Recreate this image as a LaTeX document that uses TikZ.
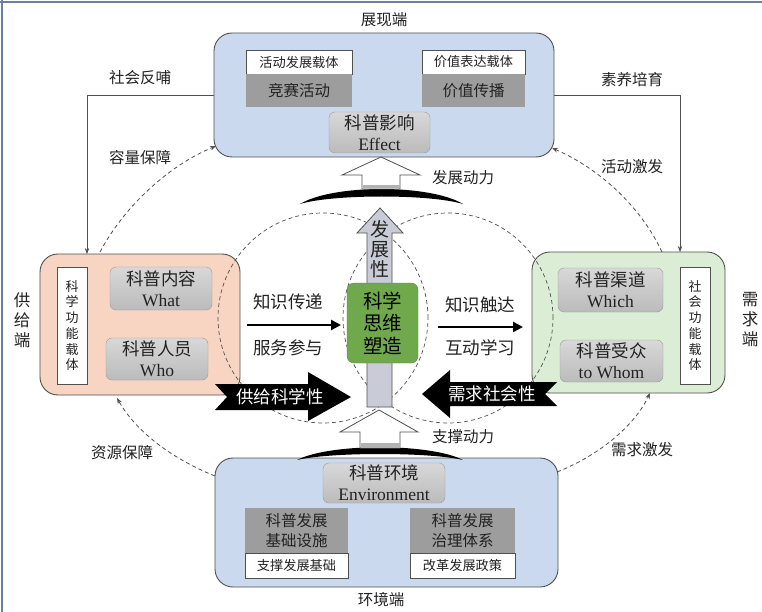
\documentclass[tikz,border=0pt]{standalone}
\usepackage{fontspec}
\setmainfont{Liberation Serif}
\newfontfamily\cjk{Noto Sans CJK SC}
\usetikzlibrary{arrows.meta}
\definecolor{blueF}{HTML}{CBD9EE}
\definecolor{peachF}{HTML}{F8D4C2}
\definecolor{greenF}{HTML}{DBEED5}
\definecolor{darkG}{HTML}{9D9D9D}
\definecolor{lgTop}{HTML}{D8D8D8}
\definecolor{lgBot}{HTML}{BBBBBB}
\definecolor{lgBorder}{HTML}{9A9A9A}
\definecolor{greenC}{HTML}{70A94C}
\definecolor{arrowG}{HTML}{C9CCD6}
\definecolor{borderC}{HTML}{505050}
\definecolor{txt}{HTML}{222222}
\definecolor{frameC}{HTML}{6B7FA3}
\tikzset{
  bigbox/.style={draw=borderC, line width=0.9pt, rounded corners=18pt, inner sep=0pt},
  whitebox/.style={draw=borderC, fill=white, line width=0.8pt, inner sep=0pt, font=\cjk\fontsize{13.2}{16}\selectfont, text=txt},
  darkbox/.style={fill=darkG, inner sep=0pt, font=\cjk\fontsize{15.5}{19.5}\selectfont, text=txt, align=center},
  graybox/.style={draw=lgBorder, top color=lgTop, bottom color=lgBot, rounded corners=6pt, inner sep=0pt, align=center, font=\fontsize{17.5}{21}\selectfont, text=txt},
  vbox/.style={draw=borderC, fill=white, line width=0.8pt, inner sep=0pt, align=center, font=\cjk\fontsize{13}{15.7}\selectfont, text=txt},
  lbl/.style={font=\cjk\fontsize{15.5}{18}\selectfont, text=txt, inner sep=0pt},
  biglbl/.style={font=\cjk\fontsize{17.5}{20}\selectfont, text=txt, inner sep=0pt},
  vlbl/.style={font=\cjk\fontsize{16.5}{20}\selectfont, text=txt, inner sep=0pt, align=center},
  thn/.style={draw=borderC, line width=0.8pt, -{Stealth[length=6pt,width=4.5pt]}},
  dsh/.style={draw=borderC, line width=0.8pt, dash pattern=on 4pt off 3pt, -{Stealth[length=6pt,width=4.5pt]}},
  circ/.style={draw=borderC, line width=0.7pt, dash pattern=on 4pt off 3pt},
  thk/.style={draw=black, line width=2.8pt, -{Triangle[length=10pt,width=10pt]}},
  blk/.style={fill=black},
  blktxt/.style={font=\cjk\fontsize{17.5}{20}\selectfont, text=white, inner sep=0pt}
}
\begin{document}
\begin{tikzpicture}[x=1pt,y=-1pt]
\useasboundingbox (0,0) rectangle (762,612);
\fill[white] (0,0) rectangle (762,612);
% frame
\draw[frameC, line width=1.3pt] (0,2) -- (762,2);
\draw[frameC, line width=1.3pt] (2,0) -- (2,612);

% ---------- top box ----------
\node[bigbox, fill=blueF, minimum width=340pt, minimum height=124pt] (top) at (384,95) {};
\node[whitebox, minimum width=106pt, minimum height=24pt] (t1w) at (299,62) {活动发展载体};
\node[darkbox, minimum width=106pt, minimum height=33pt] (t1g) at (299,90.5) {竞赛活动};
\node[whitebox, minimum width=103pt, minimum height=24pt] (t2w) at (473.5,62) {价值表达载体};
\node[darkbox, minimum width=103pt, minimum height=33pt] (t2g) at (473.5,90.5) {价值传播};
\node[graybox, minimum width=101pt, minimum height=41pt] (eff) at (379.5,132.5) {{\cjk 科普影响}\\Effect};
\node[lbl] (ltop) at (384,20) {展现端};

% ---------- left box ----------
\node[bigbox, fill=peachF, minimum width=200pt, minimum height=141pt] (lb) at (140,324.5) {};
\node[vbox, minimum width=30pt, minimum height=117pt] (lv) at (72,325.5) {科\\学\\功\\能\\载\\体};
\node[graybox, minimum width=102pt, minimum height=43pt] (what) at (161,288.5) {{\cjk 科普内容}\\What};
\node[graybox, minimum width=102pt, minimum height=42pt] (who) at (157,359) {{\cjk 科普人员}\\Who};
\node[vlbl] (lleft) at (22,320) {供\\给\\端};

% ---------- right box ----------
\node[bigbox, fill=greenF, minimum width=193pt, minimum height=141pt] (rb) at (628.5,322.5) {};
\node[graybox, minimum width=105pt, minimum height=44pt] (which) at (610.5,290) {{\cjk 科普渠道}\\Which};
\node[graybox, minimum width=103pt, minimum height=42pt] (whom) at (611.5,361) {{\cjk 科普受众}\\to Whom};
\node[vbox, minimum width=30pt, minimum height=117pt] (rv) at (695,325.5) {社\\会\\功\\能\\载\\体};
\node[vlbl] (lright) at (750,320) {需\\求\\端};

% ---------- bottom box ----------
\node[bigbox, fill=blueF, minimum width=343pt, minimum height=129pt] (bot) at (386.5,522.5) {};
\node[graybox, minimum width=122pt, minimum height=40pt] (env) at (384,483) {{\cjk 科普环境}\\Environment};
\node[darkbox, minimum width=103pt, minimum height=45pt] (b1g) at (296.5,530.5) {科普发展\\基础设施};
\node[whitebox, minimum width=103pt, minimum height=25pt] (b1w) at (296.5,565.5) {支撑发展基础};
\node[darkbox, minimum width=105pt, minimum height=45pt] (b2g) at (462.5,530.5) {科普发展\\治理体系};
\node[whitebox, minimum width=105pt, minimum height=25pt] (b2w) at (462.5,565.5) {改革发展政策};
\node[lbl] (lbot) at (381,600) {环境端};

% ---------- outer connectors ----------
\coordinate (lbT) at (87,254);
\coordinate (rbT) at (680,252);
\draw[thn] (top.west) -| (lbT);
\draw[thn] (top.east) -| (rbT);
\node[lbl] at (140,78) {社会反哺};
\node[lbl] at (632,80) {素养培育};

\coordinate (d1s) at (100,252);
\coordinate (d1e) at (216,146);
\draw[dsh] (d1s) .. controls (125,205) and (170,165) .. (d1e);
\node[lbl] at (140,158) {容量保障};
\coordinate (d2s) at (662,252);
\coordinate (d2e) at (552,148);
\draw[dsh] (d2s) .. controls (640,205) and (598,168) .. (d2e);
\node[lbl] at (632,167) {活动激发};
\coordinate (d3s) at (215,476);
\coordinate (d3e) at (117,398);
\draw[dsh] (d3s) .. controls (170,458) and (135,430) .. (d3e);
\node[lbl] at (122,453) {资源保障};
\coordinate (d4s) at (557,472);
\coordinate (d4e) at (650,393);
\draw[dsh] (d4s) .. controls (600,455) and (635,425) .. (d4e);
\node[lbl] at (642,450) {需求激发};

% ---------- dashed circles ----------
\coordinate (c1) at (323,318);
\coordinate (c2) at (448,318);
\draw[circ] (c1) circle[radius=105pt];
\draw[circ] (c2) circle[radius=105pt];

% ---------- center ----------
\filldraw[fill=arrowG, draw=borderC, line width=0.8pt]
  (367,407) -- (367,233) -- (357,233) -- (380,208) -- (403,233) -- (392,233) -- (392,407) -- cycle;
\node[font=\cjk\fontsize{19}{20}\selectfont, text=txt, align=center, inner sep=0pt] (dev) at (380,249) {发\\展\\性};
\node[draw=greenC!80!black, fill=greenC, rounded corners=7pt, minimum width=71pt, minimum height=80pt, inner sep=0pt, align=center, font=\cjk\fontsize{19.5}{22.5}\selectfont, text=black] (core) at (382.5,323) {科学\\思维\\塑造};

% top crescent and white arrow
\fill[black] (300,204) .. controls (333,184) and (430,184) .. (463,204) .. controls (430,194) and (333,194) .. cycle;
\filldraw[fill=white, draw=borderC, line width=0.8pt]
  (362,189) -- (362,175) -- (342,175) -- (381,157) -- (420,175) -- (400,175) -- (400,189) -- cycle;
\fill[gray!60] (362.5,185) rectangle (399.5,188.5);
\node[lbl] at (463,178) {发展动力};

% bottom crescent and white arrow
\fill[black] (297,460) .. controls (330,443) and (430,443) .. (463,460) .. controls (430,452) and (330,452) .. cycle;
\filldraw[fill=white, draw=borderC, line width=0.8pt]
  (360,448) -- (360,432) -- (340,432) -- (379,410) -- (418,432) -- (400,432) -- (400,448) -- cycle;
\fill[gray!60] (360.5,443) rectangle (399.5,447.5);
\node[lbl] at (463,437) {支撑动力};

% horizontal arrows
\coordinate (h1s) at (247,325);
\coordinate (h1e) at (341,325);
\draw[thk] (h1s) -- (h1e);
\node[biglbl] at (288,302) {知识传递};
\node[biglbl] at (288,348) {服务参与};
\coordinate (h2s) at (438,327);
\coordinate (h2e) at (523,327);
\draw[thk] (h2s) -- (h2e);
\node[biglbl] at (480,305) {知识触达};
\node[biglbl] at (480,348) {互动学习};

% black block arrows
\fill[blk] (215,384) -- (308,384) -- (308,372) -- (351,397) -- (308,421) -- (308,410) -- (215,410) -- (227,397) -- cycle;
\node[blktxt] at (280,397) {供给科学性};
\fill[blk] (557,382) -- (450,382) -- (450,370) -- (422,394) -- (450,418) -- (450,406) -- (557,406) -- (545,394) -- cycle;
\node[blktxt] at (492,394) {需求社会性};
\end{tikzpicture}
\end{document}
